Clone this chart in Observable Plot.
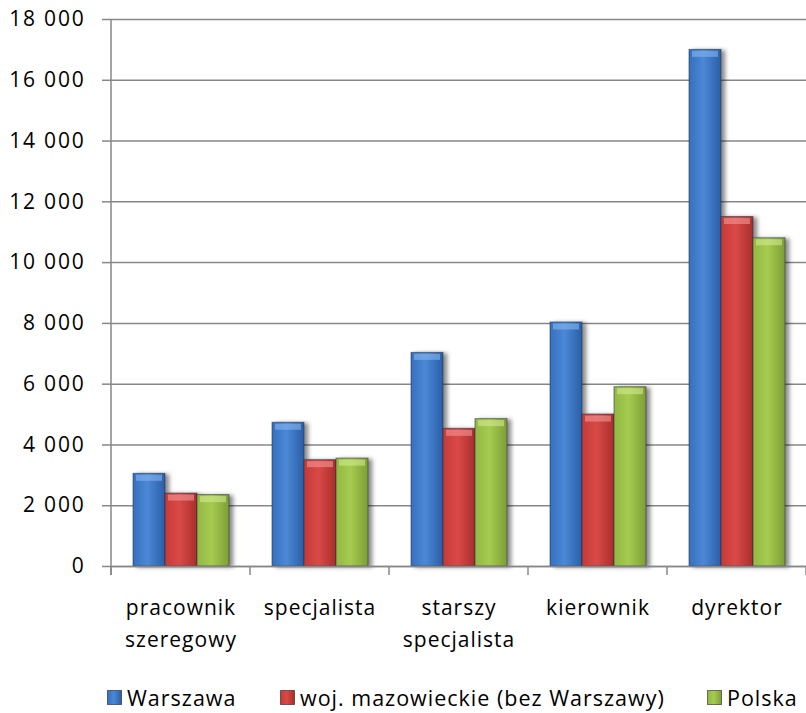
<!DOCTYPE html>
<html>
<head>
<meta charset="utf-8">
<script src="https://cdn.jsdelivr.net/npm/d3@7"></script>
<script src="https://cdn.jsdelivr.net/npm/@observablehq/plot@0.6"></script>
<style>
  body { margin: 0; background: #fff; font-family: "Open Sans", sans-serif; }
  #wrap { position: relative; width: 806px; height: 713px; }
  #legend { position: absolute; top: 683px; left: 0; width: 806px; height: 30px; font-size: 21.5px; letter-spacing: 1px; color: #000; }
  .li { position: absolute; top: 0; white-space: nowrap; display: flex; align-items: center; }
  .li svg { margin-right: 5px; }
</style>
</head>
<body>
<svg width="0" height="0" style="position:absolute">
  <defs>
    <linearGradient id="gBlue" x1="0" x2="1" y1="0" y2="0">
      <stop offset="0" stop-color="#3670bf"/>
      <stop offset="0.45" stop-color="#4b88d6"/>
      <stop offset="1" stop-color="#2b5ea6"/>
    </linearGradient>
    <linearGradient id="gRed" x1="0" x2="1" y1="0" y2="0">
      <stop offset="0" stop-color="#c43a38"/>
      <stop offset="0.45" stop-color="#d94a47"/>
      <stop offset="1" stop-color="#a92e2c"/>
    </linearGradient>
    <linearGradient id="gGreen" x1="0" x2="1" y1="0" y2="0">
      <stop offset="0" stop-color="#92b843"/>
      <stop offset="0.45" stop-color="#a6cb50"/>
      <stop offset="1" stop-color="#7d9e35"/>
    </linearGradient>
  </defs>
</svg>
<div id="wrap">
  <div id="chart"></div>
  <div id="legend"></div>
</div>
<script>
const categories = ["pracownik szeregowy", "specjalista", "starszy specjalista", "kierownik", "dyrektor"];
const categoryLabels = ["pracownik\nszeregowy", "specjalista", "starszy\nspecjalista", "kierownik", "dyrektor"];
const series = ["Warszawa", "woj. mazowieckie (bez Warszawy)", "Polska"];
const warszawa = [3050, 4730, 7030, 8030, 17000];
const mazowieckie = [2400, 3500, 4530, 5000, 11500];
const polska = [2350, 3550, 4850, 5900, 10800];
const yTicks = [0, 2000, 4000, 6000, 8000, 10000, 12000, 14000, 16000, 18000];
const seriesFills = ["url(#gBlue)", "url(#gRed)", "url(#gGreen)"];
const seriesHighlights = ["#86b6f0", "#f39896", "#d2ea8f"];

const valuesBySeries = [warszawa, mazowieckie, polska];
const table = [];
categories.forEach((c, i) => series.forEach((s, j) => table.push({category: c, series: s, value: valuesBySeries[j][i]})));

const fmt = d => d3.format(",")(d).replace(/,/g, " ");
const labelOf = c => categoryLabels[categories.indexOf(c)];
const FONT = "'Open Sans', sans-serif";

const chart = Plot.plot({
  width: 806,
  height: 660,
  marginLeft: 110,
  marginRight: 0,
  marginTop: 19,
  marginBottom: 94,
  style: {fontFamily: FONT, fontSize: "21px", color: "#000", background: "#fff"},
  fx: {domain: categories, padding: 0, label: null},
  x: {domain: series, paddingInner: 0, paddingOuter: 0.67, axis: null},
  y: {domain: [0, 18000], label: null},
  color: {domain: series, range: seriesFills},
  marks: [
    Plot.gridY(yTicks, {stroke: "#878787", strokeOpacity: 1, strokeWidth: 1.5}),
    Plot.axisY(yTicks, {tickSize: 9, tickPadding: 17, tickFormat: fmt, stroke: "#878787", strokeWidth: 1.5, fontSize: 21, label: null}),
    Plot.axisFx({anchor: "bottom", tickSize: 0, tickPadding: 25, tickFormat: labelOf, fontSize: 21, lineHeight: 1.55, label: null}),
    Plot.barY(table, {fx: "category", x: "series", y: "value", fill: "series", stroke: "#1e2e44", strokeOpacity: 0.55, strokeWidth: 1}),
    Plot.tickY(table, {fx: "category", x: "series", y: "value", stroke: d => seriesHighlights[series.indexOf(d.series)], strokeWidth: 6, strokeOpacity: 0.6, dy: 4, inset: 3}),
    Plot.ruleY([0], {stroke: "#878787", strokeWidth: 1.5})
  ]
});

const svg = d3.select(chart);
// drop shadow on bars
svg.selectAll("g[aria-label='bar']").attr("filter", "drop-shadow(4px 1px 2px rgba(0,0,0,0.45))");
// slightly wider letter spacing to match the reference's text widths
svg.selectAll("g[aria-label='y-axis tick label']").style("letter-spacing", "1.8px");
svg.selectAll("g[aria-label='fx-axis tick label']").style("letter-spacing", "1px");

// axis lines and category boundary ticks, placed through the chart's own scales
const fxS = chart.scale("fx"), yS = chart.scale("y");
const y0 = yS.apply(0), yTop = yS.apply(18000);
const bounds = categories.map(c => fxS.apply(c)).concat([fxS.apply(categories[categories.length - 1]) + fxS.step]);
const g = svg.append("g").attr("stroke", "#878787").attr("stroke-width", 1.5);
g.append("line").attr("x1", bounds[0]).attr("x2", bounds[0]).attr("y1", yTop).attr("y2", y0 + 9);
bounds.forEach(b => g.append("line").attr("x1", b).attr("x2", b).attr("y1", y0).attr("y2", y0 + 9));

document.getElementById("chart").appendChild(chart);

// legend
const legendLeft = [107, 280, 707];
const legend = document.getElementById("legend");
series.forEach((s, i) => {
  const d = document.createElement("div");
  d.className = "li";
  d.style.left = legendLeft[i] + "px";
  d.innerHTML = `<svg width="15" height="15"><rect x="0.5" y="0.5" width="14" height="14" fill="${seriesFills[i]}" stroke="rgba(0,0,0,0.5)"/></svg><span>${s}</span>`;
  legend.appendChild(d);
});
</script>
</body>
</html>
